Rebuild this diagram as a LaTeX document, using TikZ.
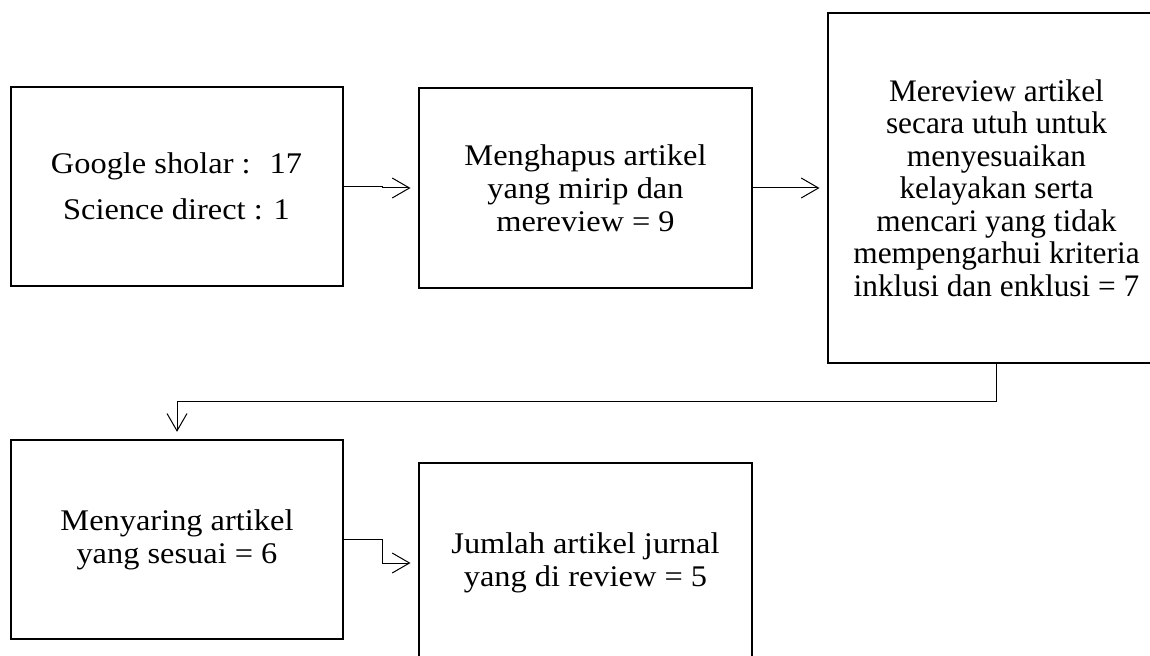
\documentclass[tikz,border=0pt]{standalone}
\usepackage{fontspec}
\setmainfont{Liberation Serif}
\newfontfamily\palfont[FakeStretch=1.08]{Liberation Serif}
\usetikzlibrary{arrows.meta}
\tikzset{
  stepbox/.style={draw, line width=1.5pt, align=center, inner sep=0pt,
    font=\palfont\fontsize{22.5}{24.8}\selectfont},
  link/.style={line width=0.75pt, -{Straight Barb[length=13pt,width=15pt,line width=0.75pt]},
    shorten >=5.5pt}
}
\begin{document}
\begin{tikzpicture}[x=0.75pt,y=-0.75pt]
\useasboundingbox (0,0) rectangle (1150,656);

\coordinate (P1) at (176.5,186.5);
\coordinate (P2) at (585.5,188);
\coordinate (P3) at (996.5,188);
\coordinate (P4) at (177,539.5);
\coordinate (P5) at (585.5,563);

\node[stepbox, minimum width=249pt, minimum height=149pt] (sumber) at (P1)
  {Google sholar : \ 17\\[9.5pt] Science direct : 1};
\node[stepbox, minimum width=250pt, minimum height=150pt] (hapus) at (P2)
  {Menghapus artikel\\ yang mirip dan\\ mereview = 9};
\node[stepbox, minimum width=253pt, minimum height=262pt,
  font=\fontsize{23.5}{24.4}\selectfont] (review) at (P3)
  {Mereview artikel\\ secara utuh untuk\\ menyesuaikan\\ kelayakan serta\\
   mencari yang tidak\\ mempengarhui kriteria\\ inklusi dan enklusi = 7};
\node[stepbox, minimum width=249pt, minimum height=149pt] (saring) at (P4)
  {Menyaring artikel\\ yang sesuai = 6};
\node[stepbox, minimum width=250pt, minimum height=150pt] (jumlah) at (P5)
  {Jumlah artikel jurnal\\ yang di review = 5};

\draw[link] (sumber.east) -- ++(39,0) |- (hapus.west);
\draw[link] (hapus.east) -- (review.west);
\draw[link] (review.south) -- ++(0,38) -| (saring.north);
\draw[link] (saring.east) -- ++(38,0) |- (jumlah.west);
\end{tikzpicture}
\end{document}
